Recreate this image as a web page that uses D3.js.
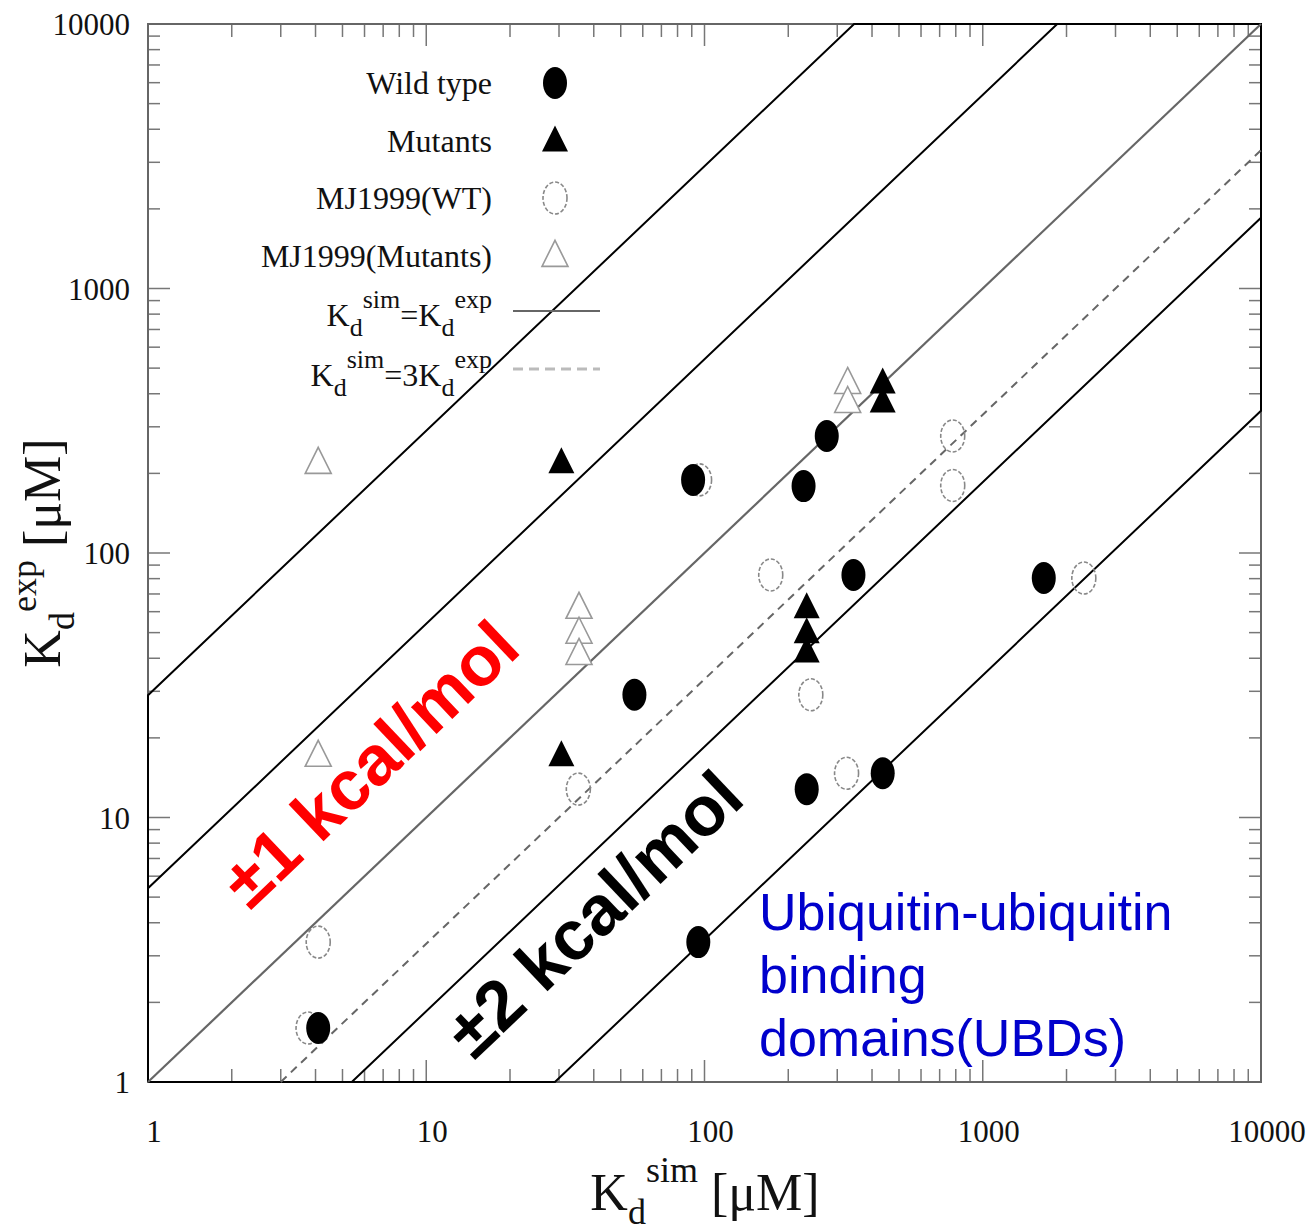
<!DOCTYPE html>
<html>
<head>
<meta charset="utf-8">
<script src="https://d3js.org/d3.v7.min.js"></script>
<style>
  body { margin: 0; background: #fff; }
  text { font-family: "Liberation Serif", "DejaVu Serif", serif; }
</style>
</head>
<body>
<svg width="1312" height="1231"></svg>
<script>
// values (Kd_sim, Kd_exp in uM)
var wildSim = [4.09, 56, 91, 227, 275, 343, 1657, 233, 437, 95];
var wildExp = [1.6, 29.1, 189, 179, 277, 82.6, 80.4, 12.8, 14.7, 3.38];
var mutSim = [30.6, 30.6, 437, 437, 233, 233, 233];
var mutExp = [219, 17.1, 439, 372, 62, 49.9, 42.2];
var mjWtSim = [3.76, 4.09, 35.2, 96, 173, 241, 324, 780, 780, 2308];
var mjWtExp = [1.6, 3.38, 12.8, 189, 82.6, 29.1, 14.7, 277, 180, 80.4];
var mjMutSim = [4.09, 4.09, 35.4, 35.4, 35.4, 327, 327];
var mjMutExp = [219, 17.1, 62, 49.9, 41.5, 439, 372];
var bandFactors = [5.4, 29];      // +-1 and +-2 kcal/mol
var tickValues = [1, 10, 100, 1000, 10000];
var tickLabels = ["1", "10", "100", "1000", "10000"];
var legendLabels = ["Wild type", "Mutants", "MJ1999(WT)", "MJ1999(Mutants)"];

var svg = d3.select("svg");
var x = d3.scaleLog().domain([1, 10000]).range([148, 1261]);
var y = d3.scaleLog().domain([1, 10000]).range([1082, 24]);
var L = 1, H = 10000;

// minor / major ticks on all sides, pointing inward
var minor = x.ticks().filter(function (v) { return tickValues.indexOf(v) < 0; });
var gT = svg.append("g").attr("stroke", "#777").attr("stroke-width", 1.5);
minor.forEach(function (v) {
  gT.append("line").attr("x1", x(v)).attr("x2", x(v)).attr("y1", y(L)).attr("y2", y(L) - 13);
  gT.append("line").attr("x1", x(v)).attr("x2", x(v)).attr("y1", y(H)).attr("y2", y(H) + 13);
  gT.append("line").attr("y1", y(v)).attr("y2", y(v)).attr("x1", x(L)).attr("x2", x(L) + 12);
  gT.append("line").attr("y1", y(v)).attr("y2", y(v)).attr("x1", x(H)).attr("x2", x(H) - 12);
});
tickValues.forEach(function (v) {
  gT.append("line").attr("x1", x(v)).attr("x2", x(v)).attr("y1", y(L)).attr("y2", y(L) - 22);
  gT.append("line").attr("x1", x(v)).attr("x2", x(v)).attr("y1", y(H)).attr("y2", y(H) + 22);
  gT.append("line").attr("y1", y(v)).attr("y2", y(v)).attr("x1", x(L)).attr("x2", x(L) + 22);
  gT.append("line").attr("y1", y(v)).attr("y2", y(v)).attr("x1", x(H)).attr("x2", x(H) - 22);
});

// frame
svg.append("rect").attr("x", x(L)).attr("y", y(H))
  .attr("width", x(H) - x(L)).attr("height", y(L) - y(H))
  .attr("fill", "none").attr("stroke", "#666").attr("stroke-width", 2);

// tick labels
tickValues.forEach(function (v, i) {
  svg.append("text").attr("x", x(v) + 6).attr("y", y(L) + 60)
    .attr("text-anchor", "middle").attr("font-size", 31).attr("fill", "#111")
    .text(tickLabels[i]);
  svg.append("text").attr("x", x(L) - 18).attr("y", y(v) + 11)
    .attr("text-anchor", "end").attr("font-size", 31).attr("fill", "#111")
    .text(tickLabels[i]);
});

// kcal/mol bands, drawn as closed outlines
var line = d3.line().x(function (d) { return x(d[0]); }).y(function (d) { return y(d[1]); });
bandFactors.forEach(function (f) {
  var pts = [[L, L], [L, f], [H / f, H], [H, H], [H, H / f], [f, L], [L, L]];
  svg.append("path").attr("d", line(pts)).attr("fill", "none")
    .attr("stroke", "#000").attr("stroke-width", 2);
});

// Kd_sim = Kd_exp and Kd_sim = 3 Kd_exp
svg.append("path").attr("d", line([[L, L], [H, H]]))
  .attr("stroke", "#666").attr("stroke-width", 2.2).attr("fill", "none");
svg.append("path").attr("d", line([[3, L], [H, H / 3]]))
  .attr("stroke", "#666").attr("stroke-width", 2).attr("stroke-dasharray", "8,6").attr("fill", "none");

// marker helpers
function ellipse(g, cx, cy, filled) {
  var e = g.append("ellipse").attr("cx", cx).attr("cy", cy).attr("rx", 12).attr("ry", 16);
  if (filled) e.attr("fill", "#000");
  else e.attr("fill", "none").attr("stroke", "#888").attr("stroke-width", 1.6).attr("stroke-dasharray", "4,2");
}
function tri(g, cx, cy, filled) {
  var s = 13, h = 26;
  var p = g.append("path").attr("d", "M" + cx + "," + (cy - h * 0.6) + " L" + (cx + s) + "," + (cy + h * 0.4) +
      " L" + (cx - s) + "," + (cy + h * 0.4) + "Z");
  if (filled) p.attr("fill", "#000");
  else p.attr("fill", "#fff").attr("stroke", "#999").attr("stroke-width", 1.6);
}

var gM = svg.append("g");
mjWtSim.forEach(function (v, i) { ellipse(gM, x(v), y(mjWtExp[i]), false); });
mjMutSim.forEach(function (v, i) { tri(gM, x(v), y(mjMutExp[i]), false); });
wildSim.forEach(function (v, i) { ellipse(gM, x(v), y(wildExp[i]), true); });
mutSim.forEach(function (v, i) { tri(gM, x(v), y(mutExp[i]), true); });

// legend
var legY = [83, 141, 198, 256];
legendLabels.forEach(function (t, i) {
  svg.append("text").attr("x", 492).attr("y", legY[i] + 11).attr("text-anchor", "end")
    .attr("font-size", 32).attr("fill", "#111").text(t);
});
ellipse(svg, 555, legY[0], true);
tri(svg, 555, legY[1], true);
ellipse(svg, 555, legY[2], false);
tri(svg, 555, legY[3], false);

function kdText(g, xx, yy, mid) {
  var t = g.append("text").attr("x", xx).attr("y", yy).attr("text-anchor", "end").attr("fill", "#111");
  t.append("tspan").attr("font-size", 32).text("K");
  t.append("tspan").attr("font-size", 26).attr("dy", 10).text("d");
  t.append("tspan").attr("font-size", 26).attr("dy", -28).text("sim");
  t.append("tspan").attr("font-size", 32).attr("dy", 18).text(mid + "K");
  t.append("tspan").attr("font-size", 26).attr("dy", 10).text("d");
  t.append("tspan").attr("font-size", 26).attr("dy", -28).text("exp");
}
kdText(svg, 492, 326, "=");
kdText(svg, 492, 386, "=3");
svg.append("line").attr("x1", 513).attr("x2", 600).attr("y1", 311).attr("y2", 311)
  .attr("stroke", "#666").attr("stroke-width", 2.2);
svg.append("line").attr("x1", 513).attr("x2", 600).attr("y1", 369).attr("y2", 369)
  .attr("stroke", "#bbb").attr("stroke-width", 3).attr("stroke-dasharray", "10,6");

// axis titles
var xt = svg.append("text").attr("x", 705).attr("y", 1210).attr("text-anchor", "middle").attr("fill", "#111");
xt.append("tspan").attr("font-size", 52).text("K");
xt.append("tspan").attr("font-size", 36).attr("dy", 14).text("d");
xt.append("tspan").attr("font-size", 36).attr("dy", -42).text("sim");
xt.append("tspan").attr("font-size", 52).attr("dy", 28).text(" [\u03bcM]");

var yt = svg.append("text").attr("transform", "translate(60,553) rotate(-90)")
  .attr("text-anchor", "middle").attr("fill", "#111");
yt.append("tspan").attr("font-size", 52).text("K");
yt.append("tspan").attr("font-size", 36).attr("dy", 14).text("d");
yt.append("tspan").attr("font-size", 36).attr("dy", -38).text("exp");
yt.append("tspan").attr("font-size", 52).attr("dy", 24).text(" [\u03bcM]");

// annotations
var ang = Math.atan2(y(10) - y(1), x(10) - x(1)) * 180 / Math.PI;
svg.append("text").attr("transform", "translate(370,764) rotate(" + ang + ")")
  .attr("text-anchor", "middle").attr("dominant-baseline", "central")
  .style("font-family", "'Liberation Sans', Arial, sans-serif").attr("font-weight", "bold")
  .attr("font-size", 70).attr("fill", "#ff0000").text("\u00b11 kcal/mol");
svg.append("text").attr("transform", "translate(594,914) rotate(" + ang + ")")
  .attr("text-anchor", "middle").attr("dominant-baseline", "central")
  .style("font-family", "'Liberation Sans', Arial, sans-serif").attr("font-weight", "bold")
  .attr("font-size", 70).attr("fill", "#000").text("\u00b12 kcal/mol");

var ubd = ["Ubiquitin-ubiquitin", "binding", "domains(UBDs)"];
ubd.forEach(function (t, i) {
  svg.append("text").attr("x", 759).attr("y", 930 + i * 63)
    .style("font-family", "'Liberation Sans', Arial, sans-serif")
    .attr("font-size", 52).attr("fill", "#0000cc").text(t);
});
</script>
</body>
</html>
